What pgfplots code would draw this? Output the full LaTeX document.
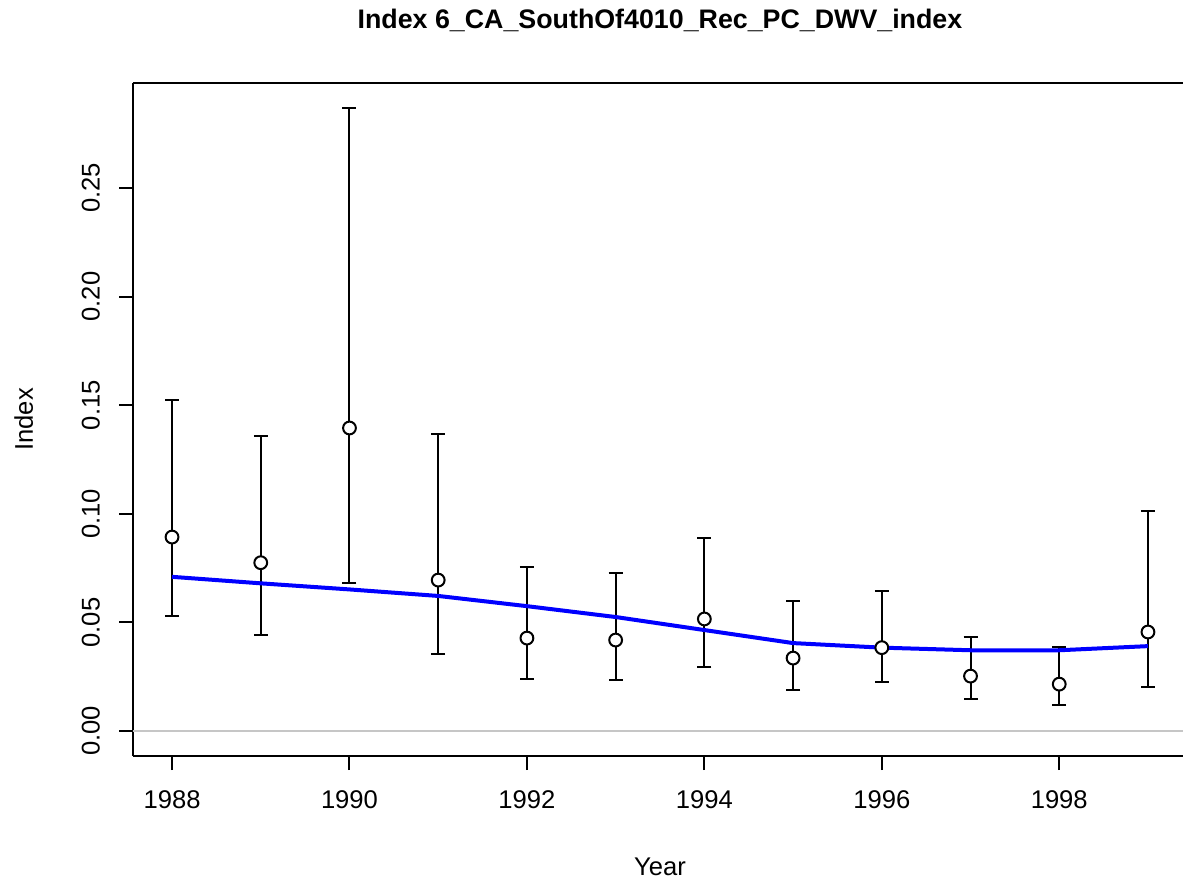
\documentclass[border=0pt]{standalone}
\usepackage{pgfplots}
\pgfplotsset{compat=1.18}
\usepackage{pgfplotstable}
\usepackage{fontspec}
\setmainfont{Liberation Sans}

% year, index, lower, upper
\pgfplotstableread{
year idx lo hi
1988 0.0893 0.0528 0.1522
1989 0.0775 0.0442 0.1360
1990 0.1395 0.0683 0.2868
1991 0.0695 0.0355 0.1367
1992 0.0428 0.0239 0.0755
1993 0.0419 0.0235 0.0727
1994 0.0516 0.0295 0.0889
1995 0.0336 0.0189 0.0599
1996 0.0384 0.0228 0.0644
1997 0.0253 0.0149 0.0432
1998 0.0216 0.0118 0.0388
1999 0.0456 0.0202 0.1012
}\obs

\pgfplotstableread{
year fit
1988 0.0710
1989 0.0680
1990 0.0652
1991 0.0622
1992 0.0575
1993 0.0525
1994 0.0465
1995 0.0405
1996 0.0384
1997 0.0372
1998 0.0372
1999 0.0391
}\fit

\begin{document}
\begin{tikzpicture}
\begin{axis}[
  name=ax,
  scale only axis,
  width=527pt, height=336.5pt,
  xmin=1987.56, xmax=1999.44,
  ymin=-0.01147, ymax=0.2983,
  separate axis lines,
  axis x line*=box, axis y line*=left,
  axis line style={line width=1pt},
  tick style={line width=1pt, black},
  tick align=outside,
  major tick length=7pt,
  xtick pos=lower, ytick pos=left,
  xtick={1988,1990,...,1998},
  ytick={0,0.05,...,0.25},
  xticklabel style={/pgf/number format/1000 sep={}, yshift=-7pt},
  yticklabel style={rotate=90, anchor=south, xshift=0pt, yshift=6pt,
    /pgf/number format/.cd, fixed, fixed zerofill, precision=2},
  /pgf/number format/assume math mode=true,
  ticklabel style={font=\fontsize{12.8}{15}\selectfont},
  xlabel={Year}, ylabel={Index},
  label style={font=\fontsize{12.8}{15}\selectfont},
  xlabel style={yshift=-17.5pt},
  ylabel style={yshift=17.5pt},
  title={\textbf{Index 6\_CA\_SouthOf4010\_Rec\_PC\_DWV\_index}},
  title style={font=\fontsize{13.4}{16}\selectfont, yshift=16pt},
  clip=false,
]
\addplot[gray!45, line width=1pt, forget plot] coordinates {(1987.56,0) (1999.44,0)};
\addplot[black, line width=1pt, only marks, draw=none, mark=none,
  error bars/.cd, y dir=both, y explicit,
  error bar style={line width=1pt, black},
  error mark options={rotate=90, mark size=3.5pt, line width=1pt, black}]
  table[x=year, y=idx,
    y error plus expr=\thisrow{hi}-\thisrow{idx},
    y error minus expr=\thisrow{idx}-\thisrow{lo}] {\obs};
\addplot[blue, line width=2pt] table[x=year, y=fit] {\fit};
\addplot[only marks, mark=*, mark size=3.2pt,
  mark options={fill=white, draw=black, line width=1pt}]
  table[x=year, y=idx] {\obs};
\coordinate (bl) at (rel axis cs:0,0);
\coordinate (tr) at (rel axis cs:1,1);
\end{axis}
\pgfresetboundingbox
\path[use as bounding box] ([shift={(-66.5pt,-63.5pt)}]bl) rectangle ([shift={(-2pt,41.5pt)}]tr);
\end{tikzpicture}
\end{document}
